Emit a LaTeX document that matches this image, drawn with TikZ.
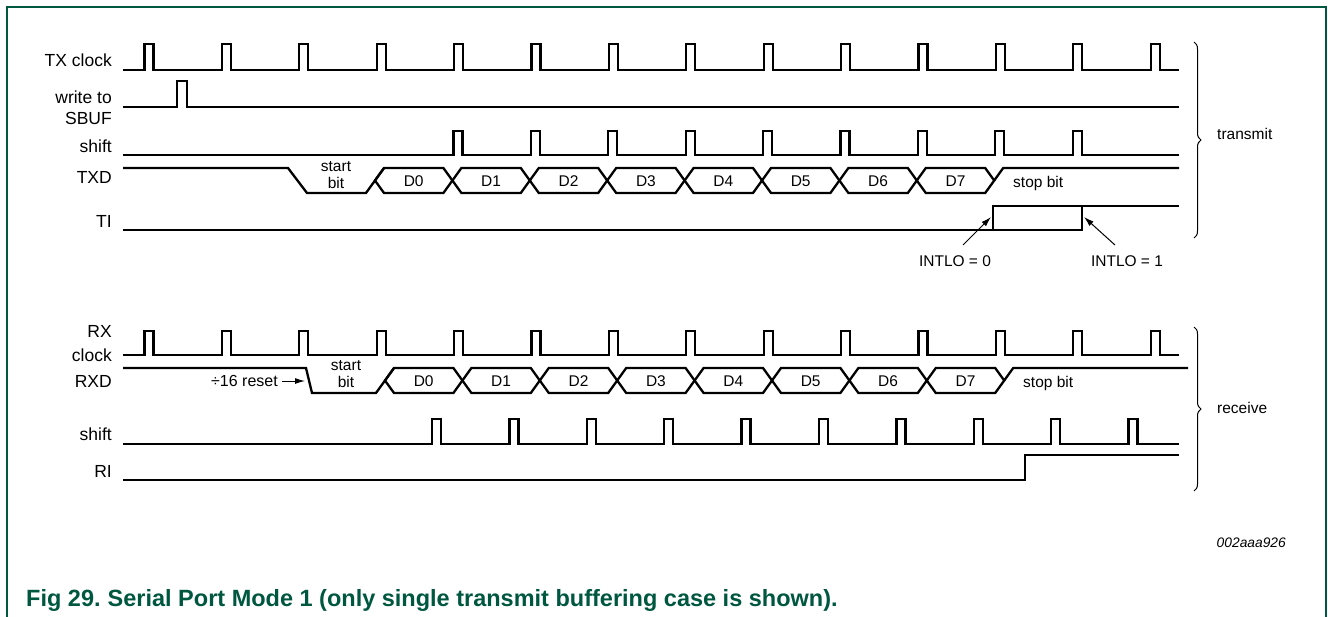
\documentclass[tikz,border=0pt]{standalone}
\usepackage{fontspec}
\setmainfont{Liberation Sans}
\usetikzlibrary{arrows.meta,decorations.pathreplacing}
\definecolor{nxpgreen}{RGB}{0,87,63}
\begin{document}
\begin{tikzpicture}[x=1pt,y=-1pt,
  sig/.style={line width=2.3pt,line join=miter,line cap=butt},
  thinarrow/.style={line width=1pt,-{Latex[length=10pt,width=6pt]}},
  bracestyle/.style={line width=1pt,decorate,decoration={brace,amplitude=7pt}},
  siglabel/.style={anchor=base east,inner sep=0pt,font=\fontsize{17.5}{20}\selectfont},
  datalabel/.style={anchor=base,inner sep=0pt,font=\fontsize{15.5}{17}\selectfont},
  leftlabel/.style={anchor=base west,inner sep=0pt,font=\fontsize{15.5}{17}\selectfont}]
\useasboundingbox (0,0) rectangle (1328,616);
% frame
\draw[nxpgreen,line width=2pt] (7,620) -- (7,7) -- (1326,7) -- (1326,620);

% ---------------- transmit ----------------
\node[siglabel] (lTXclk) at (112,66) {TX clock};
\node[siglabel] (lWr1) at (112,103) {write to};
\node[siglabel] (lWr2) at (112,124) {SBUF};
\node[siglabel] (lShT) at (112,152) {shift};
\node[siglabel] (lTXD) at (112,183) {TXD};
\node[siglabel] (lTI) at (112,227) {TI};

% TX clock
\draw[sig] (123,70) \foreach \i in {0,...,13}{
  -- ({144.5+77.4*\i},70) -- ({144.5+77.4*\i},44) -- ({153.5+77.4*\i},44) -- ({153.5+77.4*\i},70)} -- (1179,70);
% write to SBUF
\draw[sig] (123,107) -- (177,107) -- (177,81) -- (187,81) -- (187,107) -- (1179,107);
% TX shift
\draw[sig] (123,155) \foreach \i in {0,...,8}{
  -- ({453.5+77.4*\i},155) -- ({453.5+77.4*\i},131) -- ({462.5+77.4*\i},131) -- ({462.5+77.4*\i},155)} -- (1179,155);
% TXD
\draw[sig] (123,168) -- (288,168) -- (307,193) -- (366,193) -- (384,168);
\foreach \i/\t in {0/D0,1/D1,2/D2,3/D3,4/D4,5/D5,6/D6,7/D7}{
  \pgfmathsetmacro{\a}{375+77.4*\i}
  \pgfmathsetmacro{\b}{375+77.4*(\i+1)}
  \draw[sig] (\a,180.5) -- ({\a+9},168) -- ({\b-9},168) -- (\b,180.5) -- ({\b-9},193) -- ({\a+9},193) -- cycle;
  \node[datalabel] (tx\t) at ({(\a+\b)/2},186.5) {\t};
}
\draw[sig] (994.2,180.5) -- (1003.2,168) -- (1179,168);
\node[datalabel] (txstart) at (336,171.5) {start};
\node[datalabel] (txbit) at (336,188.5) {bit};
\node[leftlabel] (txstop) at (1013,187) {stop bit};
% TI
\draw[sig] (123,230) -- (993,230) -- (993,206) -- (1179,206);
\draw[sig] (993,230) -- (1082,230) -- (1082,206);
\node[datalabel] (int0) at (955,266) {INTLO = 0};
\node[datalabel] (int1) at (1127,266) {INTLO = 1};
\coordinate (tiRise) at (991,217);
\coordinate (tiFall) at (1084,217);
\coordinate (int0tail) at (963,245);
\coordinate (int1tail) at (1115,245);
\draw[thinarrow] (int0tail) -- (tiRise);
\draw[thinarrow] (int1tail) -- (tiFall);
% brace transmit
\coordinate (tbTop) at (1194,42);
\coordinate (tbBot) at (1194,238);
\draw[bracestyle] (tbTop) -- (tbBot);
\node[leftlabel] (ltransmit) at (1217,139) {transmit};

% ---------------- receive ----------------
\node[siglabel] (lRX1) at (112,337) {RX};
\node[siglabel] (lRX2) at (112,361) {clock};
\node[siglabel] (lRXD) at (112,387) {RXD};
\node[siglabel] (lShR) at (112,440) {shift};
\node[siglabel] (lRI) at (112,477) {RI};

% RX clock
\draw[sig] (123,355) \foreach \i in {0,...,13}{
  -- ({144.5+77.4*\i},355) -- ({144.5+77.4*\i},331) -- ({153.5+77.4*\i},331) -- ({153.5+77.4*\i},355)} -- (1179,355);
% RXD
\draw[sig] (123,368) -- (306,368) -- (312,393) -- (376,393) -- (394,368);
\foreach \i/\t in {0/D0,1/D1,2/D2,3/D3,4/D4,5/D5,6/D6,7/D7}{
  \pgfmathsetmacro{\a}{385+77.4*\i}
  \pgfmathsetmacro{\b}{385+77.4*(\i+1)}
  \draw[sig] (\a,380.5) -- ({\a+9},368) -- ({\b-9},368) -- (\b,380.5) -- ({\b-9},393) -- ({\a+9},393) -- cycle;
  \node[datalabel] (rx\t) at ({(\a+\b)/2},386.5) {\t};
}
\draw[sig] (1004.2,380.5) -- (1013.2,368) -- (1188,368);
\node[datalabel] (rxstart) at (346,370) {start};
\node[datalabel] (rxbit) at (346,387) {bit};
\node[leftlabel] (rxstop) at (1023,387) {stop bit};
\node[anchor=base east,inner sep=0pt,font=\fontsize{16}{18}\selectfont] (reset) at (278,386) {÷16 reset};
\coordinate (resetTip) at (305,381);
\draw[thinarrow] (reset.east |- resetTip) ++(4,0) coordinate (resetTail) (resetTail) -- (resetTip);
% RX shift
\draw[sig] (123,444) \foreach \i in {0,...,9}{
  -- ({432+77.4*\i},444) -- ({432+77.4*\i},419) -- ({441+77.4*\i},419) -- ({441+77.4*\i},444)} -- (1179,444);
% RI
\draw[sig] (123,480) -- (1025,480) -- (1025,455) -- (1179,455);
% brace receive
\coordinate (rbTop) at (1194,327);
\coordinate (rbBot) at (1194,491);
\draw[bracestyle] (rbTop) -- (rbBot);
\node[leftlabel] (lreceive) at (1217,413) {receive};

% ---------------- captions ----------------
\node[anchor=base east,inner sep=0pt,font=\itshape\fontsize{13.8}{16}\selectfont] (code) at (1286,547) {002aaa926};
\node[anchor=base west,inner sep=0pt,text=nxpgreen,font=\bfseries\fontsize{23.5}{26}\selectfont] (caption) at (26,606) {Fig 29.\hspace{0.3em}Serial Port Mode 1 (only single transmit buffering case is shown).};
\end{tikzpicture}
\end{document}
